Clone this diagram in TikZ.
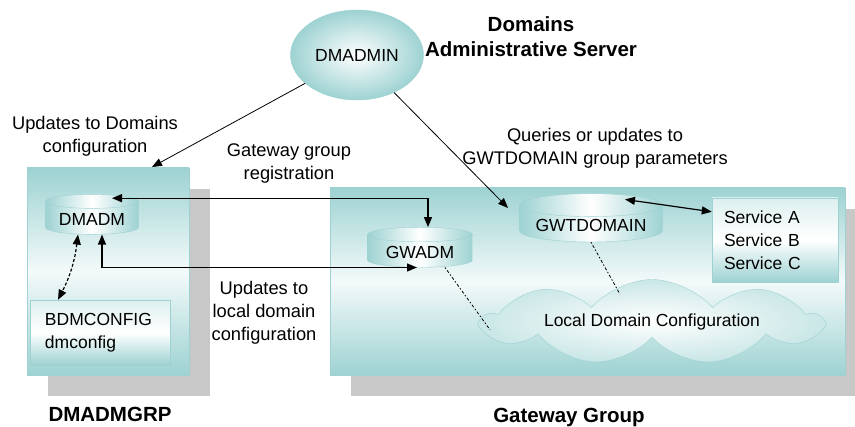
\documentclass[tikz,border=0pt]{standalone}
\usepackage{fontspec}
\setmainfont{Liberation Sans}
\usepackage{tikz}
\usetikzlibrary{shapes.geometric,shapes.symbols,shadows,arrows.meta}
\definecolor{boxteal}{RGB}{158,210,210}
\definecolor{shadowgray}{RGB}{200,200,200}
\tikzset{
    group-box/.style = {rectangle, draw=boxteal, top color=boxteal, bottom color=boxteal, middle color=boxteal!12, drop shadow={opacity=1, fill=shadowgray, shadow xshift=21pt, shadow yshift=-21pt}},
    group-title/.style = {font=\fontsize{20.5}{25}\selectfont\bfseries, align=center},
    plain-text/.style = {font=\fontsize{18.3}{23}\selectfont, align=center},
    server/.style = {ellipse, draw=boxteal, inner color=white, outer color=boxteal, minimum width=133pt, minimum height=90pt, font=\fontsize{17.5}{23}\selectfont},
    drum/.style = {cylinder, shape border rotate=90, aspect=0.2, draw=boxteal, left color=boxteal, right color=boxteal, middle color=white, inner sep=2pt, font=\fontsize{17.5}{23}\selectfont},
    file-box/.style = {rectangle, draw=boxteal, top color=boxteal!35, bottom color=boxteal, middle color=white, align=left, font=\fontsize{17.5}{23}\selectfont},
    config-cloud/.style = {cloud, cloud puffs=9, cloud puff arc=100, cloud ignores aspect, draw=boxteal, inner color=white, outer color=boxteal!55, minimum width=338pt, minimum height=85pt, font=\fontsize{17.5}{23}\selectfont},
    one-way/.style = {-{Triangle[length=10pt,width=8pt]}, line width=0.8pt},
    two-way/.style = {{Triangle[length=10pt,width=8pt]}-{Triangle[length=10pt,width=8pt]}, line width=1.2pt},
    dot-link/.style = {line width=0.8pt, dash pattern=on 1.5pt off 2pt on 3pt off 2pt},
}
\begin{document}
\begin{tikzpicture}[x=1pt, y=-1pt]
\useasboundingbox (0,0) rectangle (855,427);
\node [group-box, minimum width=162pt, minimum height=207pt] (grp) at (108,271.5) {};
\node [group-box, minimum width=515pt, minimum height=187pt] (gwgrp) at (587.5,281.5) {};
\node [group-title] at (110,414) {DMADMGRP};
\node [group-title] at (569,417) {Gateway Group};
\node [group-title] (title) at (531,37) {Domains\\Administrative Server};
\node [server] (dmadmin) at (357,55) {DMADMIN};
\node [drum, minimum width=93pt, minimum height=40pt] (dmadm) at (92,219) {DMADM};
\node [drum, minimum width=105pt, minimum height=40pt] (gwadm) at (420,252) {GWADM};
\node [drum, minimum width=143pt, minimum height=38pt] (gwt) at (591,225) {GWTDOMAIN};
\node [file-box, minimum height=65pt, text width=110pt, inner xsep=15pt] (bdm) at (100,332.5) {BDMCONFIG\\dmconfig};
\node [file-box, minimum height=84pt, text width=102pt, inner xsep=12pt] (svc) at (775,240) {Service A\\Service B\\Service C};
\node [config-cloud] (ldc) at (652,322) {Local Domain Configuration};
\node [plain-text] (upd-dom) at (95,136) {Updates to Domains\\configuration};
\node [plain-text] (reg) at (289,164) {Gateway group\\registration};
\node [plain-text] (upd-loc) at (264,313) {Updates to\\local domain\\configuration};
\node [plain-text] (qry) at (595,148) {Queries or updates to\\GWTDOMAIN group parameters};
\coordinate (grp-in) at (152,167);
\coordinate (gwt-in) at (508,208);
\draw [one-way] (dmadmin) -- (grp-in);
\draw [one-way] (dmadmin) -- (gwt-in);
\draw [two-way] ([xshift=20pt,yshift=-4pt]dmadm.north) -| ([xshift=8pt]gwadm.north);
\draw [two-way] ([xshift=10pt]dmadm.south) |- ([xshift=-3pt]gwadm.south);
\draw [two-way, densely dashed] ([xshift=-14pt]dmadm.south) to[bend left=10] ([xshift=-42pt]bdm.north);
\draw [two-way] ([xshift=34pt,yshift=-6pt]gwt.north) -- ([yshift=-14pt]svc.north west);
\draw [dot-link] ([xshift=25pt]gwadm.south) -- ([xshift=12pt,yshift=-8pt]ldc.west);
\draw [dot-link] (gwt.south) -- ([xshift=-32pt,yshift=-15pt]ldc.north);
\end{tikzpicture}
\end{document}
